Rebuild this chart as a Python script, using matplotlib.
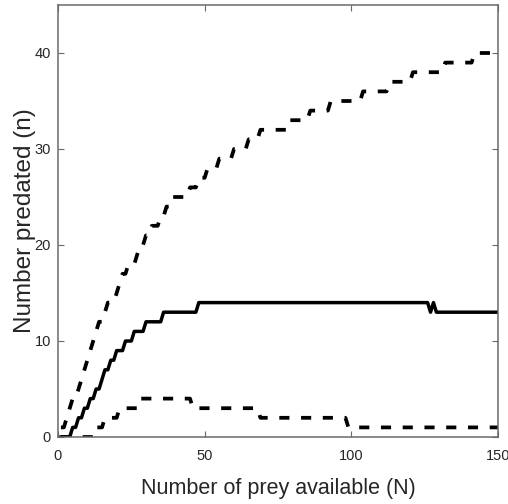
import matplotlib
matplotlib.use("Agg")
import matplotlib.pyplot as plt

plt.rcParams['font.family'] = ['Liberation Sans', 'DejaVu Sans']

# Prey available (x)
prey_N = list(range(1, 151))

# Mean number predated (solid)
mean_n = ([0]*4 + [1]*2 + [2]*2 + [3]*2 + [4]*2 + [5]*2 + [6]*1 + [7]*2 + [8]*2
          + [9]*3 + [10]*3 + [11]*4 + [12]*6 + [13]*12 + [14]*79 + [13] + [14] + [13]*22)

# Upper bound (dashed, top)
upper_n = ([1, 1, 2, 3, 4, 4, 5, 6, 7, 8, 9, 10, 11, 12, 12, 13, 14, 14, 14, 15,
            16, 17, 17, 18, 18, 18, 19, 20, 20, 21, 21, 22, 22, 22, 23, 23, 24, 24]
           + [25]*6 + [26]*3 + [27]*3 + [28]*4 + [29]*5 + [30]*5 + [31]*4
           + [32]*10 + [33]*7 + [34]*7 + [35]*11 + [36]*9 + [37]*8 + [38]*11
           + [39]*10 + [40]*9)

# Lower bound (dashed, bottom)
lower_n = ([0]*12 + [1]*3 + [2]*5 + [3]*7 + [4]*18 + [3]*23 + [2]*30 + [1]*52)

x_ticks = [0, 50, 100, 150]
y_ticks = [0, 10, 20, 30, 40]

fig = plt.figure(figsize=(5.08, 5.04), dpi=100)
ax = fig.add_axes([58/508, 1 - 437/504, 440/508, 432/504])

dash = (0, (2.7, 3.1))
ax.plot(prey_N, upper_n, color='black', lw=2.7, linestyle=dash, dash_capstyle='butt')
ax.plot(prey_N, mean_n, color='black', lw=2.5, solid_joinstyle='round')
ax.plot(prey_N, lower_n, color='black', lw=2.7, linestyle=dash, dash_capstyle='butt')

ax.set_xlim(0, 150)
ax.set_ylim(0, 45)
ax.set_xticks(x_ticks)
ax.set_yticks(y_ticks)
ax.set_xticklabels([str(v) for v in x_ticks])
ax.set_yticklabels([str(v) for v in y_ticks])

spine_col = '#6a6a6a'
for s in ax.spines.values():
    s.set_color(spine_col)
    s.set_linewidth(1.1)

ax.tick_params(axis='both', which='both', direction='in', length=4.3, width=0.8,
               color=spine_col, labelcolor='#262626', labelsize=10.5,
               top=True, right=True)
ax.tick_params(axis='x', pad=9)
ax.tick_params(axis='y', pad=5)

ax.set_xlabel('Number of prey available (N)', fontsize=15.5, color='#262626')
ax.set_ylabel('Number predated (n)', fontsize=17.5, color='#262626')
ax.xaxis.set_label_coords(0.5, -0.095)
ax.yaxis.set_label_coords(-0.05, 0.5)

fig.savefig('out.png', dpi=100)
